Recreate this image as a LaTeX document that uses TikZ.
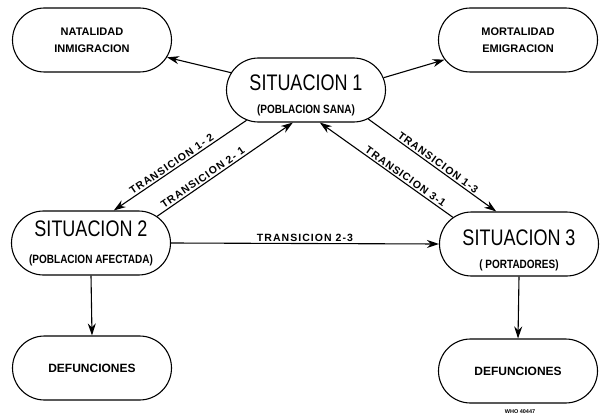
\documentclass[tikz,border=0pt]{standalone}
\usepackage{fontspec}
\usepackage{graphicx}
\setmainfont{Liberation Sans}
\newfontfamily\lblfont[LetterSpace=10]{Liberation Sans}
\usetikzlibrary{shapes.misc,arrows.meta}
\newcommand{\bigtxt}[1]{\scalebox{1}[1.25]{\fontsize{18}{20}\selectfont #1}}
\newcommand{\subtxt}[1]{\scalebox{1}[1.2]{\fontsize{10}{12}\selectfont\bfseries #1}}
\tikzset{
  box/.style={rounded rectangle, draw, line width=1.1pt, minimum width=159pt,
    minimum height=64pt, inner sep=0pt, align=center},
  smallbox/.style={box, font=\fontsize{11}{17}\selectfont\bfseries},
  sitbox/.style={box, font=\fontsize{10}{23}\selectfont},
  arr/.style={line width=1.1pt, -{Stealth[length=12pt,width=8pt]}},
  tlab/.style={font=\lblfont\bfseries\fontsize{10.5}{12}\selectfont, inner sep=1.5pt},
}
\begin{document}
\begin{tikzpicture}[x=1pt,y=-1pt]
\useasboundingbox (0,0) rectangle (607,417);
\node[smallbox] (nat) at (92,40) {NATALIDAD\\INMIGRACION};
\node[smallbox] (mort) at (518,40) {MORTALIDAD\\EMIGRACION};
\node[sitbox] (s1) at (306,90) {\rule{0pt}{26pt}\bigtxt{SITUACION 1}\\\subtxt{(POBLACION SANA)}};
\node[sitbox] (s2) at (91,243) {\bigtxt{SITUACION 2}\\[4pt]\subtxt{(POBLACION AFECTADA)}};
\node[sitbox] (s3) at (519,244) {\rule{0pt}{28pt}\bigtxt{SITUACION 3}\\\subtxt{( PORTADORES)}};
\node[box, font=\fontsize{12}{14}\selectfont\bfseries] (d2) at (92,368) {DEFUNCIONES};
\node[box, font=\fontsize{12}{14}\selectfont\bfseries] (d3) at (518,371) {DEFUNCIONES};
\node[font=\fontsize{5.5}{6}\selectfont\bfseries, inner sep=0pt] (who) at (520,412) {WHO 40447};

\draw[arr] (s1.167) -- (nat.-13);
\draw[arr] (s1.9) -- (mort.195);
\draw[arr] (s1.207) -- node[tlab, sloped, above, pos=0.54] {TRANSICION 1- 2} (s2.55);
\draw[arr] (s2.22) -- node[tlab, sloped, above, pos=0.36] {TRANSICION 2- 1} (s1.248);
\draw[arr] (s1.335) -- node[tlab, sloped, above, pos=0.52] {TRANSICION 1-3} (s3.125);
\draw[arr] (s3.158) -- node[tlab, sloped, above, pos=0.38] {TRANSICION 3-1} (s1.293);
\draw[arr] (s2.east) -- node[tlab, above, pos=0.5] {TRANSICION 2-3} (s3.west);
\draw[arr] (s2.south) -- (d2.north);
\draw[arr] (s3.south) -- (d3.north);
\end{tikzpicture}
\end{document}
